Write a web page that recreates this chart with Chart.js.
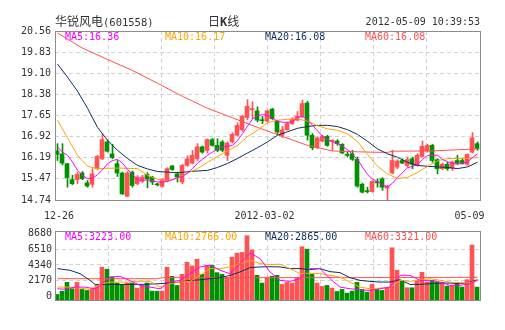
<!DOCTYPE html>
<html>
<head>
<meta charset="utf-8">
<script src="https://cdn.jsdelivr.net/npm/chart.js@4.4.0/dist/chart.umd.min.js"></script>
<style>
html, body { margin: 0; padding: 0; background: #fff; }
#wrap { position: relative; width: 505px; height: 330px; overflow: hidden; font-family: "DejaVu Sans Mono", monospace; font-size: 10px; color: #333; }
canvas { position: absolute; left: 0; }
.t { position: absolute; white-space: nowrap; line-height: 12px; }
.cjk { font-family: "Noto Sans CJK SC", sans-serif; font-size: 12px; }
</style>
</head>
<body>
<div id="wrap">
  <canvas id="kChart" width="505" height="222" style="top:0"></canvas>
  <canvas id="volChart" width="505" height="108" style="top:222px"></canvas>
  <div class="t" style="left:55px;top:14px;line-height:14px;font-size:10.5px"><span class="cjk">华锐风电</span>(601558)</div>
  <div class="t" style="left:208px;top:14px;line-height:14px"><span class="cjk">日</span><b style="font-size:12px">K</b><span class="cjk">线</span></div>
  <div class="t" style="right:25px;top:16px">2012-05-09 10:39:53</div>
</div>
<script>
// 日K数据 (2011-12-26 ~ 2012-05-09)
const opens  = [16.43,16.33,15.99,15.44,15.44,15.67,15.33,15.28,15.82,16.16,16.74,16.33,15.99,15.67,14.87,15.70,15.30,15.39,15.62,15.53,15.29,15.21,15.41,15.91,15.64,15.36,15.93,16.01,16.16,16.57,16.45,16.82,16.62,16.74,16.28,16.74,16.97,17.16,17.58,17.85,17.81,17.50,17.46,17.87,17.46,16.97,17.16,17.37,17.49,17.62,18.08,16.97,16.54,16.77,16.93,16.76,16.77,16.66,16.31,16.33,16.14,15.28,15.05,15.03,15.37,15.47,15.15,15.67,15.87,16.10,15.93,16.16,15.93,16.24,16.43,16.62,16.13,15.82,15.97,15.84,16.10,16.10,15.97,16.39,16.68];
const highs  = [16.68,16.68,16.00,15.59,15.70,15.72,15.41,15.82,16.28,17.02,16.80,16.66,16.10,15.70,15.72,15.74,15.58,15.59,15.68,15.56,15.32,15.47,15.85,15.94,15.70,15.97,16.26,16.45,16.68,16.60,16.84,16.86,16.85,16.79,16.74,17.06,17.40,17.66,18.20,18.12,17.95,17.62,17.84,17.90,17.49,17.28,17.43,17.58,17.79,18.18,18.14,17.03,16.91,16.97,16.97,16.82,16.82,16.68,16.39,16.45,16.22,15.32,15.18,15.41,15.47,15.51,15.24,16.45,16.13,16.16,16.22,16.22,16.33,16.77,16.66,16.66,16.16,16.01,16.04,16.08,16.28,16.16,16.33,17.06,16.74];
const lows   = [16.10,15.95,15.18,15.27,15.30,15.44,15.18,15.18,15.78,16.13,16.39,16.16,15.55,14.93,14.85,15.18,15.26,15.33,15.16,15.27,15.22,15.18,15.36,15.76,15.36,15.30,15.90,15.98,16.10,16.35,16.36,16.59,16.40,16.40,16.10,16.70,16.94,17.10,17.50,17.54,17.43,17.37,17.43,17.50,17.02,16.89,17.14,17.34,17.46,17.58,16.80,16.47,16.51,16.74,16.59,16.45,16.62,16.33,16.22,16.10,15.18,14.98,14.98,15.01,15.18,15.07,14.74,15.64,15.82,15.99,15.87,15.82,15.90,16.22,16.39,16.04,15.64,15.78,15.76,15.76,15.97,15.97,15.93,16.36,16.45];
const closes = [16.31,16.01,15.51,15.30,15.62,15.47,15.22,15.64,16.24,16.82,16.42,16.20,15.67,14.95,15.67,15.24,15.53,15.53,15.47,15.36,15.26,15.44,15.82,15.79,15.53,15.93,16.16,16.28,16.57,16.39,16.82,16.62,16.45,16.45,16.70,17.00,17.31,17.62,17.97,17.89,17.49,17.47,17.81,17.54,17.08,17.16,17.37,17.52,17.62,18.06,16.97,16.54,16.88,16.93,16.62,16.79,16.68,16.36,16.28,16.14,15.22,15.01,15.03,15.38,15.33,15.18,15.22,16.10,16.08,16.01,16.13,15.97,16.28,16.59,16.62,16.10,15.82,15.97,15.82,16.05,16.01,15.99,16.31,16.88,16.51];
// 成交量(手)
const volumes = [278,741,1944,1065,1944,972,833,1065,1528,4028,3750,2685,1852,1667,1852,1852,1157,1528,1852,741,741,741,4028,2778,1528,3056,4723,4213,5139,3056,4306,4306,3287,3056,2593,5417,5973,6065,8380,6389,2917,1852,2593,2778,2917,1667,1944,1852,2593,6852,6528,3056,1852,1389,1528,1157,694,972,463,741,1944,972,602,1667,972,833,1157,6713,3611,2222,1204,1204,2222,3333,1991,2222,1944,1944,1435,1528,1759,1296,2315,7084,1296];

// 均线 [序号, 数值]
const ma5 = [[0,16.57],[1,16.39],[2,16.28],[3,16.05],[4,15.76],[5,15.59],[6,15.47],[7,15.49],[8,15.61],[9,15.78],[10,15.99],[11,16.10],[12,16.14],[13,16.01],[14,15.79],[15,15.62],[16,15.44],[17,15.41],[18,15.44],[19,15.40],[20,15.36],[21,15.36],[22,15.38],[23,15.44],[24,15.51],[25,15.55],[26,15.67],[27,15.82],[28,16.01],[29,16.14],[30,16.28],[31,16.39],[32,16.51],[33,16.56],[34,16.59],[35,16.62],[36,16.79],[37,17.03],[38,17.28],[39,17.53],[40,17.65],[41,17.68],[42,17.66],[43,17.57],[44,17.45],[45,17.42],[46,17.41],[47,17.43],[48,17.58],[49,17.62],[50,17.51],[51,17.31],[52,17.12],[53,16.93],[54,16.82],[55,16.75],[56,16.69],[57,16.59],[58,16.47],[59,16.31],[60,16.14],[61,15.87],[62,15.62],[63,15.46],[64,15.37],[65,15.26],[66,15.19],[67,15.32],[68,15.51],[69,15.68],[70,15.85],[71,15.90],[72,15.95],[73,16.14],[74,16.27],[75,16.28],[76,16.28],[77,16.13],[78,16.06],[79,16.00],[80,15.97],[81,16.01],[82,16.05],[83,16.20],[84,16.33]];
const ma10 = [[0,17.49],[2,16.88],[4,16.28],[6,15.90],[8,15.82],[12,15.84],[16,15.82],[18,15.59],[20,15.45],[22,15.40],[24,15.50],[26,15.66],[28,15.82],[30,16.04],[32,16.24],[34,16.43],[36,16.62],[38,16.92],[40,17.14],[42,17.40],[44,17.49],[46,17.52],[48,17.54],[50,17.45],[52,17.30],[54,17.19],[56,17.14],[58,17.02],[60,16.76],[62,16.31],[64,15.90],[66,15.64],[68,15.48],[70,15.52],[72,15.69],[74,15.90],[76,16.09],[78,16.17],[80,16.17],[82,16.17],[84,16.20]];
const ma20 = [[0,19.42],[2,18.97],[4,18.49],[6,17.90],[8,17.24],[10,16.80],[12,16.45],[14,16.17],[16,15.93],[18,15.81],[20,15.72],[24,15.68],[28,15.74],[30,15.76],[32,15.86],[34,16.00],[36,16.17],[38,16.36],[40,16.54],[42,16.74],[44,16.97],[46,17.09],[48,17.21],[50,17.27],[52,17.31],[54,17.31],[56,17.27],[58,17.16],[60,17.00],[62,16.76],[64,16.50],[66,16.33],[68,16.21],[70,16.04],[72,15.93],[74,15.90],[76,15.88],[78,15.86],[80,15.82],[82,15.88],[84,16.04]];
const ma60 = [[0,20.49],[5,19.97],[10,19.58],[15,19.20],[20,18.76],[25,18.31],[30,17.90],[35,17.57],[40,17.24],[45,16.93],[50,16.62],[55,16.43],[60,16.40],[65,16.38],[66,16.38],[67,16.42],[75,16.43],[80,16.47],[84,16.50]];

const volMa5 = [[0,1065],[1.5,1000],[3.5,1296],[5.5,1296],[7.5,1065],[8.5,1528],[10.5,2685],[12.5,2778],[14.5,2200],[16.5,1528],[18.5,1296],[20.5,1065],[22.5,1991],[24.5,2222],[26.5,3148],[28.5,4074],[30.5,4306],[32.5,3611],[34.5,3148],[36.5,4537],[38.5,6000],[40.5,5231],[42.5,3380],[44.5,2222],[46.5,2083],[48.5,2454],[50.5,3843],[52.5,3843],[54.5,2454],[56.5,1296],[58.5,1065],[60.5,926],[62.5,833],[64.5,1065],[66.5,1296],[68.5,2917],[70.5,2917],[72.5,2222],[74.5,2222],[76.5,1991],[78.5,1528],[80.5,1528],[82.5,1759],[84,2222]];
const volMa10 = [[0,1296],[2.5,1296],[4.5,1157],[6.5,972],[8.5,1667],[10.5,1991],[14.5,1991],[16.5,2083],[18.5,2083],[20.5,1296],[22.5,1759],[24.5,1991],[26.5,2083],[28.5,2917],[30.5,3843],[32.5,3843],[34.5,4074],[36.5,4537],[38.5,5000],[40.5,4537],[42.5,4398],[44.5,4450],[46.5,3843],[48.5,3148],[50.5,3200],[52.5,3148],[54.5,2917],[56.5,2685],[58.5,1991],[60.5,1296],[62.5,1065],[64.5,1157],[66.5,1296],[68.5,2222],[70.5,2083],[72.5,2315],[74.5,2454],[76.5,2222],[78.5,1991],[80.5,1900],[82.5,1900],[84,2222]];
const volMa20 = [[0,3843],[2.5,3611],[4.5,3148],[6.5,2222],[7.5,1667],[10.5,1667],[16.5,1667],[20.5,1759],[24.5,1991],[26.5,2222],[28.5,2300],[30.5,2454],[32.5,2593],[34.5,2917],[36.5,3380],[38.5,3981],[40.5,4074],[42.5,4100],[44.5,4074],[46.5,3843],[48.5,3843],[50.5,3704],[52.5,3843],[54.5,3426],[56.5,3287],[58.5,2593],[60.5,2222],[62.5,2083],[64.5,1991],[66.5,1991],[68.5,2315],[70.5,1667],[72.5,1667],[74.5,1759],[76.5,1852],[78.5,1852],[80.5,1759],[82.5,1991],[84,2315]];
const volMa60 = [[0,2450],[20,2450],[21,2600],[60,2600],[84,2650]];

const priceTicks = ['14.74','15.47','16.19','16.92','17.65','18.38','19.10','19.83','20.56'];
const volTicks = ['0','2170','4340','6510','8680'];
const dateLabels = ['12-26','2012-03-02','05-09'];
const maLabels = ['MA5:16.36','MA10:16.17','MA20:16.08','MA60:16.08'];
const volMaLabels = ['MA5:3223.00','MA10:2766.00','MA20:2865.00','MA60:3321.00'];

const UP = '#ff5252', DOWN = '#009100';
const MA_COLORS = ['#ff00ff', '#ffa500', '#0e2f5c', '#ff5050'];
const GRID = '#d2d2d2';
const N = closes.length;
const VOL_MIN = -482, VOL_MAX = 9024;

Chart.defaults.font.family = "'DejaVu Sans Mono', monospace";
Chart.defaults.font.size = 10;
Chart.defaults.color = '#333';

const candleColors = closes.map((c, i) => c >= opens[i] ? UP : DOWN);

// 均线图例
const wrap = document.getElementById('wrap');
function addLegend(labels, top) {
    labels.forEach((txt, k) => {
        const d = document.createElement('div');
        d.className = 't';
        d.style.left = (65 + k * 100) + 'px';
        d.style.top = top + 'px';
        d.style.color = MA_COLORS[k];
        d.textContent = txt;
        wrap.appendChild(d);
    });
}
addLegend(maLabels, 31);
addLegend(volMaLabels, 231);

// 外框
const framePlugin = {
    id: 'frame',
    afterDatasetsDraw(chart) {
        const { ctx, chartArea: a } = chart;
        ctx.save();
        ctx.strokeStyle = '#8c8c8c';
        ctx.lineWidth = 1;
        ctx.strokeRect(a.left + 0.5, a.top + 0.5, a.right - a.left, a.bottom - a.top);
        ctx.restore();
    }
};

function maLine(points, color) {
    return {
        type: 'line', xAxisID: 'xw',
        data: points.map(p => ({ x: p[0], y: p[1] })),
        borderColor: color, borderWidth: 1, pointRadius: 0, fill: false, tension: 0
    };
}

const gridX = [];
for (let k = 0; k <= 8; k++) gridX.push({ value: -0.5 + k * N / 8 });

// x 轴：网格、实体、影线
const commonX = {
    xg: {
        type: 'linear', position: 'top', min: -0.5, max: N - 0.5, offset: false,
        afterFit: s => { s.height = 0; },
        afterBuildTicks: s => { s.ticks = gridX.slice(); },
        ticks: { display: false },
        grid: { color: GRID, drawTicks: false, offset: false },
        border: { display: false, dash: [4, 3] }
    },
    xb: { type: 'linear', display: false, min: -0.4, max: N - 0.4, offset: false, grid: { offset: false } },
    xw: { type: 'linear', display: false, min: -0.5, max: N - 0.5, offset: false, grid: { offset: false } }
};

const baseOpts = {
    responsive: false,
    animation: false,
    events: [],
    plugins: { legend: { display: false }, tooltip: { enabled: false } }
};

// K线图
new Chart(document.getElementById('kChart').getContext('2d'), {
    type: 'bar',
    data: {
        datasets: [
            maLine(ma5, MA_COLORS[0]),
            maLine(ma10, MA_COLORS[1]),
            maLine(ma20, MA_COLORS[2]),
            maLine(ma60, MA_COLORS[3]),
            {   // 实体
                type: 'bar', xAxisID: 'xb', grouped: false,
                data: opens.map((o, i) => ({ x: i, y: [o, closes[i]] })),
                backgroundColor: candleColors, barThickness: 4, minBarLength: 1
            },
            {   // 影线
                type: 'bar', xAxisID: 'xw', grouped: false,
                data: lows.map((l, i) => ({ x: i, y: [l, highs[i]] })),
                backgroundColor: candleColors, barThickness: 1
            }
        ]
    },
    options: Object.assign({}, baseOpts, {
        layout: { padding: { top: 31, right: 25, left: 0, bottom: 0 } },
        scales: Object.assign({
            y: {
                min: 14.74, max: 20.56,
                afterFit: s => { s.width = 55; },
                afterBuildTicks: s => { s.ticks = priceTicks.map(v => ({ value: +v })); },
                ticks: { autoSkip: false, padding: 4, callback: (v, i) => priceTicks[i] },
                grid: { color: GRID, drawTicks: false },
                border: { display: false, dash: [4, 3] }
            },
            xl: {
                type: 'linear', position: 'bottom', min: -0.5, max: N - 0.5, offset: false,
                afterFit: s => { s.height = 22; },
                afterBuildTicks: s => { s.ticks = [0.3, 41.4, 82.4].map(v => ({ value: v })); },
                ticks: { autoSkip: false, maxRotation: 0, padding: 10, callback: (v, i) => dateLabels[i] },
                grid: { display: false, drawTicks: false },
                border: { display: false }
            }
        }, commonX)
    }),
    plugins: [framePlugin]
});

// 成交量图
new Chart(document.getElementById('volChart').getContext('2d'), {
    type: 'bar',
    data: {
        datasets: [
            maLine(volMa5, MA_COLORS[0]),
            maLine(volMa10, MA_COLORS[1]),
            maLine(volMa20, MA_COLORS[2]),
            maLine(volMa60, MA_COLORS[3]),
            {
                type: 'bar', xAxisID: 'xb', grouped: false,
                data: volumes.map((v, i) => ({ x: i, y: v })),
                base: VOL_MIN,
                backgroundColor: candleColors, barThickness: 4
            }
        ]
    },
    options: Object.assign({}, baseOpts, {
        layout: { padding: { top: 9, right: 25, left: 0, bottom: 30 } },
        scales: Object.assign({
            y: {
                min: VOL_MIN, max: VOL_MAX,
                afterFit: s => { s.width = 55; },
                afterBuildTicks: s => { s.ticks = volTicks.map(v => ({ value: +v })); },
                ticks: { autoSkip: false, padding: 3, callback: (v, i) => volTicks[i] },
                grid: {
                    color: c => (c.index > 0 && c.index < volTicks.length - 1) ? GRID : 'rgba(0,0,0,0)',
                    drawTicks: false
                },
                border: { display: false, dash: [4, 3] }
            }
        }, commonX)
    }),
    plugins: [framePlugin]
});
</script>
</body>
</html>
